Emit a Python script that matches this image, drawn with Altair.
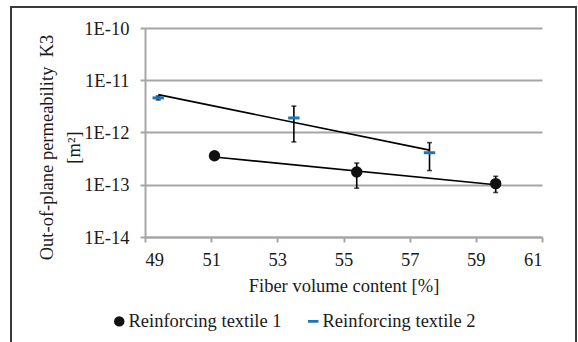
import altair as alt
import pandas as pd

# Measured permeability per textile: fiber volume content [%], mean K3 [m^2], error range
t1_vf = [51.1, 55.4, 59.6]
t1_k3 = [3.6e-13, 1.75e-13, 1.05e-13]
t1_lo = [None, 8.6e-14, 7.1e-14]
t1_hi = [None, 2.6e-13, 1.45e-13]

t2_vf = [49.4, 53.5, 57.6]
t2_k3 = [4.6e-12, 1.9e-12, 4.1e-13]
t2_lo = [4.2e-12, 6.6e-13, 1.87e-13]
t2_hi = [5.0e-12, 3.2e-12, 6.4e-13]

# Exponential trend lines (end points)
trend1_vf = [51.1, 59.6]
trend1_k3 = [3.4e-13, 1.0e-13]
trend2_vf = [49.4, 57.6]
trend2_k3 = [5.3e-12, 4.6e-13]

S1 = "Reinforcing textile 1"
S2 = "Reinforcing textile 2"

pts = pd.DataFrame(
    {
        "series": [S1] * 3 + [S2] * 3,
        "vf": t1_vf + t2_vf,
        "k3": t1_k3 + t2_k3,
        "lo": t1_lo + t2_lo,
        "hi": t1_hi + t2_hi,
    }
)
err = pts.dropna(subset=["lo", "hi"])
trend = pd.DataFrame(
    {
        "series": [S1] * 2 + [S2] * 2,
        "vf": trend1_vf + trend2_vf,
        "k3": trend1_k3 + trend2_k3,
    }
)

FONT = "Liberation Serif"
FS = 18.5
TXT = "#1a1a1a"
GRID = "#a6a6a6"
BLUE = "#1b75bb"

x_scale = alt.Scale(domain=[49, 61], nice=False, zero=False)
y_scale = alt.Scale(type="log", domain=[1e-14, 1e-10], nice=False)

x_axis = alt.Axis(
    values=[49, 51, 53, 55, 57, 59, 61],
    title="Fiber volume content [%]",
    grid=False,
    labelPadding=8,
    titlePadding=8,
)
y_axis = alt.Axis(
    values=[1e-14, 1e-13, 1e-12, 1e-11, 1e-10],
    labelExpr="'1E' + round(log(datum.value) / LN10)",
    title=["Out-of-plane permeability\u00a0\u00a0K3", "[m²]"],
    grid=True,
    gridColor=GRID,
    gridWidth=2,
    labelPadding=11,
    titleAngle=-90,
    titleX=-108,
    titleY=119,
    titleBaseline="top",
    titleAlign="center",
    titleLineHeight=27,
)

x = alt.X("vf:Q", scale=x_scale, axis=x_axis)
y = alt.Y("k3:Q", scale=y_scale, axis=y_axis)
y_lo = alt.Y("lo:Q", scale=y_scale, axis=y_axis)
y_hi = alt.Y("hi:Q", scale=y_scale, axis=y_axis)

lines = (
    alt.Chart(trend)
    .mark_line(color="black", strokeWidth=1.6)
    .encode(x=x, y=y, detail="series:N")
)

bars = (
    alt.Chart(err)
    .mark_rule(color="black", strokeWidth=1.6)
    .encode(x=x, y=y_lo, y2="hi:Q")
)
caps_lo = (
    alt.Chart(err)
    .mark_tick(color="black", orient="horizontal", size=5, thickness=1.6)
    .encode(x=x, y=y_lo)
)
caps_hi = (
    alt.Chart(err)
    .mark_tick(color="black", orient="horizontal", size=5, thickness=1.6)
    .encode(x=x, y=y_hi)
)

legend = alt.Legend(
    title=None,
    orient="none",
    direction="horizontal",
    legendX=-35,
    legendY=284,
    symbolSize=110,
    symbolOpacity=1,
    symbolStrokeWidth=0,
    labelOffset=0,
    columnPadding=22,
    padding=0,
)

dash = "M-1,-0.26H1V0.26H-1Z"
points = (
    alt.Chart(pts)
    .mark_point(filled=True, opacity=1, size=130)
    .encode(
        x=x,
        y=y,
        color=alt.Color(
            "series:N",
            scale=alt.Scale(domain=[S1, S2], range=["#111111", BLUE]),
            legend=legend,
        ),
        shape=alt.Shape(
            "series:N",
            scale=alt.Scale(domain=[S1, S2], range=["circle", dash]),
            legend=legend,
        ),
    )
)

# Outer frame around the whole figure
frame = (
    alt.Chart(pd.DataFrame({"k": [0]}))
    .mark_rect(fill=None, stroke="#3a3a3a", strokeWidth=2)
    .encode(
        x=alt.value(-134),
        x2=alt.value(431),
        y=alt.value(-21),
        y2=alt.value(330),
    )
)

chart = (
    alt.layer(frame, lines, bars, caps_lo, caps_hi, points)
    .properties(
        width=397,
        height=209,
        padding={"left": 145, "top": 28, "right": 36, "bottom": 105},
        autosize=alt.AutoSizeParams(type="none"),
        background="white",
    )
    .configure_view(stroke=None)
    .configure_axis(
        labelFont=FONT,
        labelFontSize=FS,
        labelColor=TXT,
        titleFont=FONT,
        titleFontSize=FS,
        titleColor=TXT,
        titleFontWeight="normal",
        domainColor=GRID,
        domainWidth=2,
        tickColor=GRID,
        tickWidth=2,
        tickSize=5,
    )
    .configure_legend(
        labelFont=FONT,
        labelFontSize=FS,
        labelColor=TXT,
    )
)

chart.save("out.html", embed_options={"renderer": "svg", "actions": False})
